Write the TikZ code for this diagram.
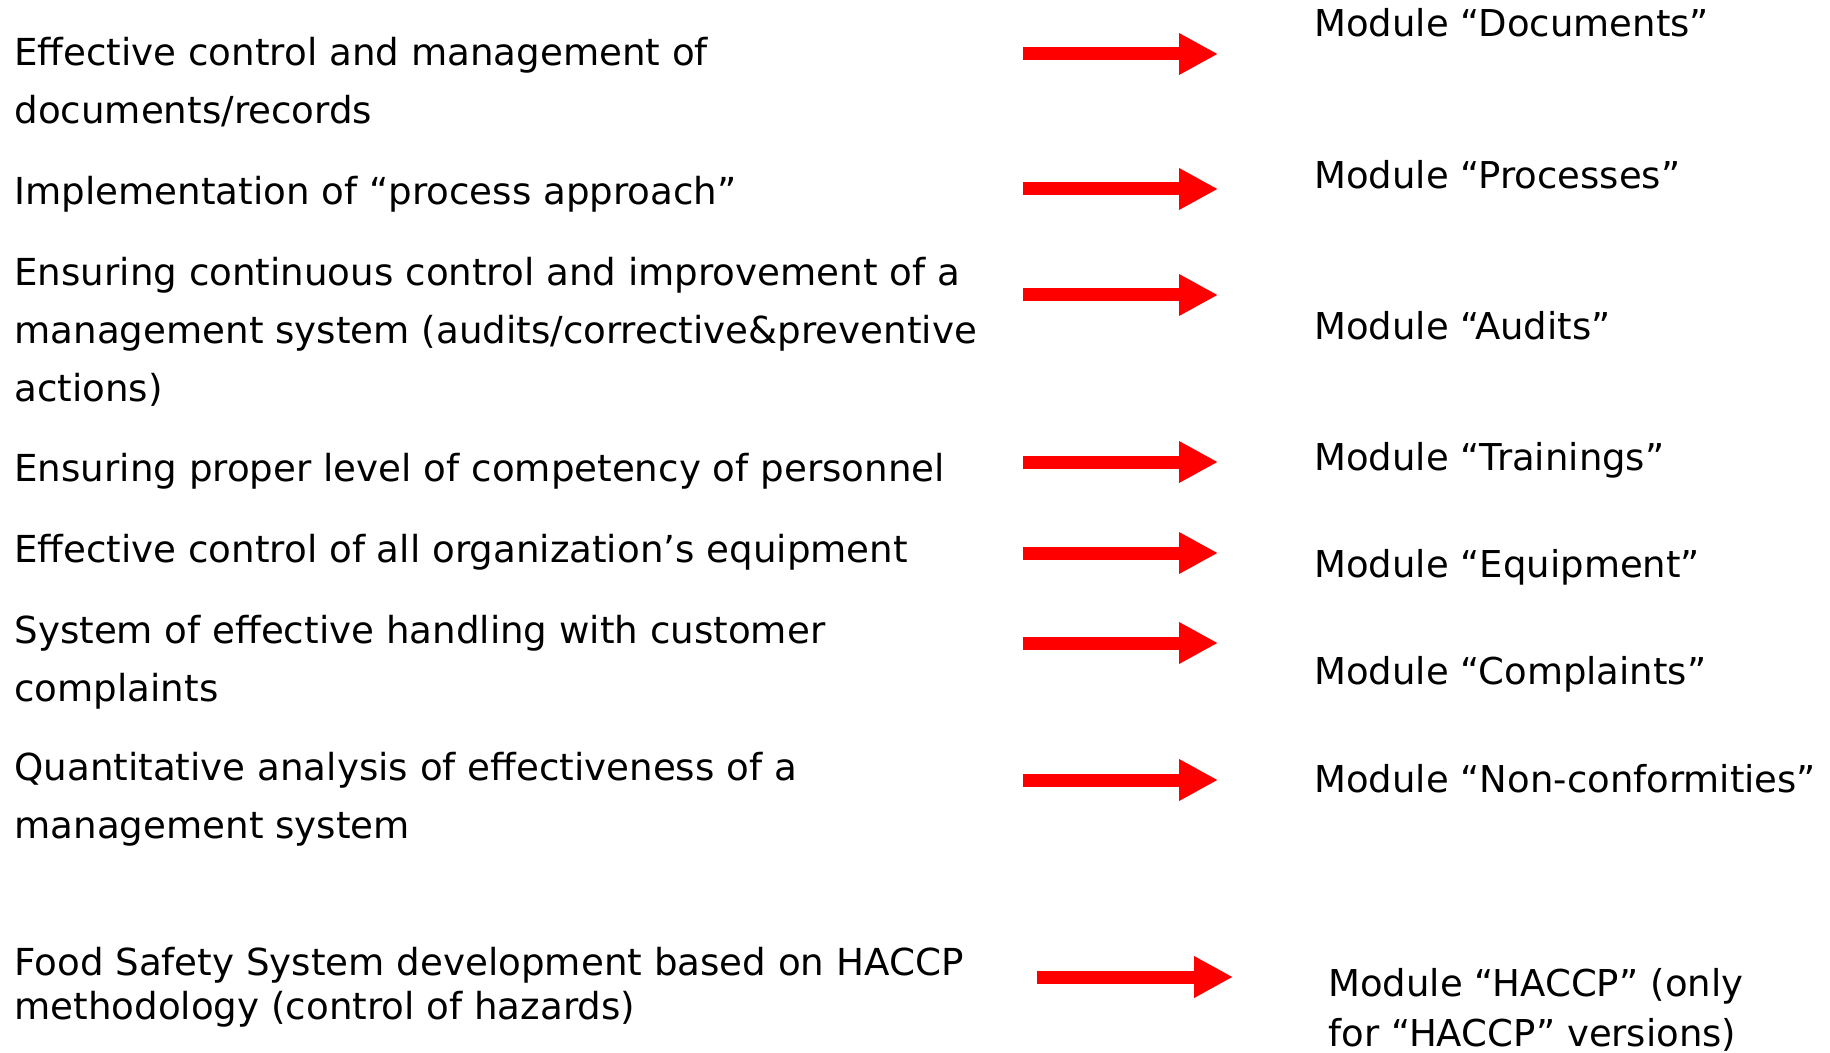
\documentclass[tikz,border=0pt]{standalone}
\usepackage{fontspec}
\setmainfont{DejaVu Sans}
\usetikzlibrary{arrows.meta}

\begin{document}
\begin{tikzpicture}[x=0.5pt,y=-0.5pt]
	\tikzset{
		goal/.style={anchor=base west,align=left,inner sep=0pt,font=\fontsize{18.6}{29}\selectfont},
		module/.style={anchor=base west,align=left,inner sep=0pt,font=\fontsize{18.5}{25}\selectfont},
		redarrow/.style={draw=red,line width=6.5pt,-{Triangle[length=19.5pt,width=19.5pt]}}
	}
	\useasboundingbox (0,0) rectangle (1830,1053);
	% requirements (placed at the baseline of their last line)
	\node[goal] (g1) at (14,124) {Effective control and management of\\documents/records};
	\node[goal] (g2) at (14,205) {Implementation of “process approach”};
	\node[goal] (g3) at (14,401) {Ensuring continuous control and improvement of a\\management system (audits/corrective\&preventive\\actions)};
	\node[goal] (g4) at (14,481) {Ensuring proper level of competency of personnel};
	\node[goal] (g5) at (14,562) {Effective control of all organization’s equipment};
	\node[goal] (g6) at (14,701) {System of effective handling with customer\\complaints};
	\node[goal] (g7) at (14,838) {Quantitative analysis of effectiveness of a\\management system};
	\node[goal,font=\fontsize{18.6}{22}\selectfont] (g8) at (14,1019) {Food Safety System development based on HACCP\\methodology (control of hazards)};
	% modules
	\node[module] (m1) at (1314,37) {Module “Documents”};
	\node[module] (m2) at (1314,189) {Module “Processes”};
	\node[module] (m3) at (1314,340) {Module “Audits”};
	\node[module] (m4) at (1314,470) {Module “Trainings”};
	\node[module] (m5) at (1314,577) {Module “Equipment”};
	\node[module] (m6) at (1314,684) {Module “Complaints”};
	\node[module] (m7) at (1314,792) {Module “Non-conformities”};
	\node[module] (m8) at (1328,1046) {Module “HACCP” (only\\for “HACCP” versions)};
	% arrow ends
	\coordinate (a1) at (1023,54);  \coordinate (b1) at (1218,54);
	\coordinate (a2) at (1023,189); \coordinate (b2) at (1218,189);
	\coordinate (a3) at (1023,295); \coordinate (b3) at (1218,295);
	\coordinate (a4) at (1023,462); \coordinate (b4) at (1218,462);
	\coordinate (a5) at (1023,553); \coordinate (b5) at (1218,553);
	\coordinate (a6) at (1023,643); \coordinate (b6) at (1218,643);
	\coordinate (a7) at (1023,780); \coordinate (b7) at (1218,780);
	\coordinate (a8) at (1037,977); \coordinate (b8) at (1233,977);
	\draw[redarrow] (a1) -- (b1);
	\draw[redarrow] (a2) -- (b2);
	\draw[redarrow] (a3) -- (b3);
	\draw[redarrow] (a4) -- (b4);
	\draw[redarrow] (a5) -- (b5);
	\draw[redarrow] (a6) -- (b6);
	\draw[redarrow] (a7) -- (b7);
	\draw[redarrow] (a8) -- (b8);
\end{tikzpicture}
\end{document}
